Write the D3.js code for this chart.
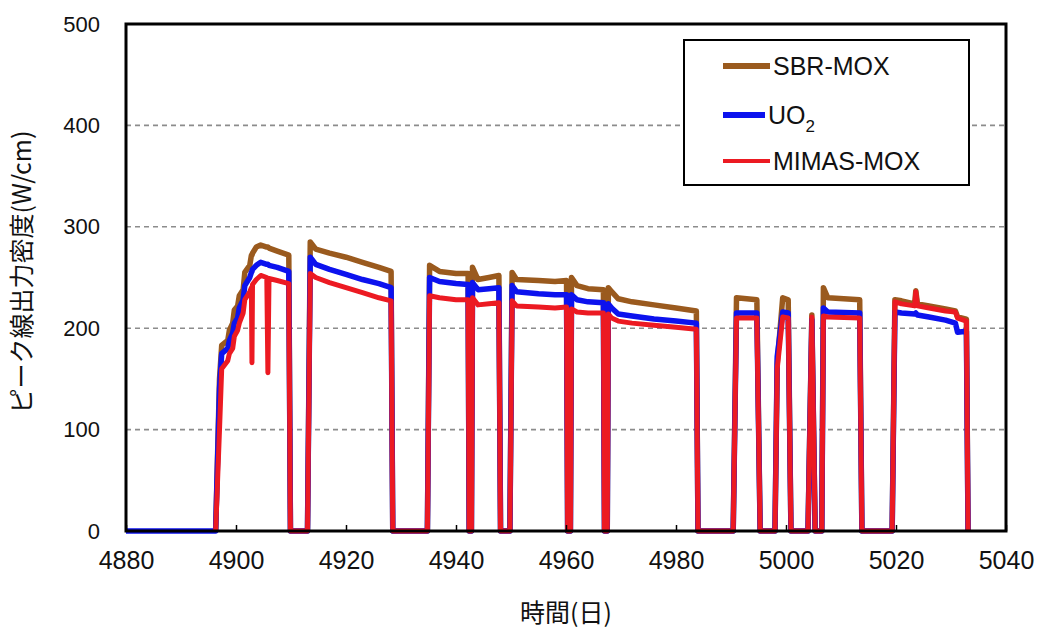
<!DOCTYPE html>
<html>
<head>
<meta charset="utf-8">
<script src="https://cdn.jsdelivr.net/npm/d3@7"></script>
<style>
  html, body { margin: 0; padding: 0; background: #fff; }
  svg { display: block; }
  text { font-family: "Liberation Sans", Arial, sans-serif; fill: #111; }
</style>
</head>
<body>
<svg id="chart" width="1044" height="632"></svg>
<script>
// ---- data ----
const seriesNames = ["SBR-MOX", "UO2", "MIMAS-MOX"];
const xTicks = [4880, 4900, 4920, 4940, 4960, 4980, 5000, 5020, 5040];
const yTicks = [0, 100, 200, 300, 400, 500];

const days = [
  4880, 4896.3,
  4897.0, 4897.4, 4898.5, 4898.8, 4899.4, 4899.7, 4900.3, 4900.6, 4901.3, 4901.6, 4902.5, 4902.8,
  4902.9, 4903.0, 4903.7, 4904.5, 4905.6, 4905.8, 4906.0, 4907.5, 4909.6, 4909.9,
  4913.0, 4913.5, 4914.5, 4917, 4920, 4923, 4926, 4928.2, 4928.5,
  4934.8, 4935.2, 4937, 4940, 4942.2, 4942.4, 4942.8, 4943.0, 4944, 4946, 4947.8, 4948.1,
  4949.8, 4950.2, 4951, 4955, 4958, 4960.1, 4960.3, 4960.8, 4961.0, 4962, 4964, 4966.8, 4967.0, 4967.5, 4967.7, 4968.3, 4969.5, 4972, 4976, 4980, 4983.7, 4984.0,
  4990.4, 4991.0, 4994.7, 4995.3, 4998.0, 4998.4, 4999.4, 5000.4, 5000.9,
  5004.0, 5004.7, 5005.3, 5006.5, 5006.8, 5007.6, 5013.4, 5013.8,
  5019.3, 5019.8, 5021, 5023.4, 5023.6, 5023.9, 5026, 5029, 5030.8, 5031.2, 5032.8, 5033.1
];

const sbrMox = [
  null, 0,
  150, 183, 188, 198, 205, 218, 222, 232, 238, 255, 262, 272,
  272, 274, 280, 282, 280, 280, 279, 276, 272, 0,
  0, 285, 278, 274, 270, 265, 260, 256, 0,
  0, 262, 256, 254, 254, 0, 0, 260, 248, 250, 252, 0,
  0, 255, 248, 247, 246, 247, 0, 0, 250, 242, 239, 238, 0, 0, 240, 236, 229, 226, 223, 220, 217, 0,
  0, 230, 228, 0, 0, 165, 230, 228, 0,
  0, 213, 0, 0, 240, 230, 228, 0,
  0, 228, 227, 224, 237, 224, 222, 219, 217, 211, 209, 0
];

const uo2 = [
  0, 0,
  140, 175, 180, 188, 195, 205, 210, 220, 228, 242, 250, 255,
  256, 258, 262, 265, 263, 263, 262, 260, 256, 0,
  0, 270, 263, 258, 253, 248, 244, 240, 0,
  0, 250, 246, 244, 243, 0, 0, 245, 238, 239, 240, 0,
  0, 242, 236, 234, 233, 233, 0, 0, 233, 228, 226, 225, 0, 0, 224, 220, 214, 212, 209, 207, 205, 0,
  0, 215, 215, 0, 0, 172, 216, 215, 0,
  0, 208, 0, 0, 220, 216, 215, 0,
  0, 216, 215, 214, 215, 213, 211, 208, 205, 196, 197, 0
];

const mimasMox = [
  null, 0,
  100, 160, 168, 175, 180, 192, 198, 205, 215, 228, 236, 240,
  166, 243, 248, 252, 250, 156, 249, 247, 244, 0,
  0, 254, 250, 245, 240, 235, 230, 227, 0,
  0, 232, 230, 228, 228, 0, 0, 230, 223, 224, 225, 0,
  0, 227, 222, 221, 220, 221, 0, 0, 219, 216, 215, 215, 0, 0, 214, 210, 207, 205, 203, 201, 199, 0,
  0, 210, 210, 0, 0, 160, 211, 210, 0,
  0, 211, 0, 0, 212, 211, 210, 0,
  0, 226, 224, 222, 236, 222, 220, 217, 216, 210, 207, 0
];

const seriesColors = ["#9a5a1e", "#0c12ee", "#ec1a22"];

// ---- drawing ----
const svg = d3.select("#chart");
const plotLeft = 126, plotRight = 1006, plotTop = 24, plotBottom = 531;

const x = d3.scaleLinear().domain([4880, 5040]).range([plotLeft, plotRight]);
const y = d3.scaleLinear().domain([0, 500]).range([plotBottom, plotTop]);

// grid lines
svg.append("g")
  .selectAll("line")
  .data(yTicks.filter(v => v > 0 && v < 500))
  .join("line")
  .attr("x1", plotLeft).attr("x2", plotRight)
  .attr("y1", d => y(d)).attr("y2", d => y(d))
  .attr("stroke", "#8c8c8c")
  .attr("stroke-width", 1.6)
  .attr("stroke-dasharray", "5,4");

// series
const valueArrays = [sbrMox, uo2, mimasMox];
const widths = [5.5, 5.5, 5];
const line = d3.line()
  .defined(d => d.v !== null)
  .x(d => x(d.t))
  .y(d => y(d.v));

valueArrays.forEach((arr, i) => {
  const pts = days.map((t, k) => ({ t: t, v: arr[k] }));
  svg.append("path")
    .datum(pts)
    .attr("d", line)
    .attr("fill", "none")
    .attr("stroke", seriesColors[i])
    .attr("stroke-width", widths[i])
    .attr("stroke-linejoin", "round");
});

// frame
svg.append("rect")
  .attr("x", plotLeft).attr("y", plotTop)
  .attr("width", plotRight - plotLeft).attr("height", plotBottom - plotTop)
  .attr("fill", "none")
  .attr("stroke", "#000")
  .attr("stroke-width", 3);

// x axis
const xAxis = svg.append("g")
  .attr("transform", `translate(0,${plotBottom})`)
  .call(d3.axisBottom(x).tickValues(xTicks).tickFormat(d3.format("d")).tickSize(-6).tickPadding(20));
xAxis.select(".domain").remove();
xAxis.selectAll(".tick line").attr("stroke", "#000").attr("stroke-width", 1.5);
xAxis.selectAll(".tick text")
  .style("font-family", "'Liberation Sans', Arial, sans-serif")
  .style("font-size", "25px")
  .attr("fill", "#111")
  .attr("dy", "0.71em");

// y axis
const yAxis = svg.append("g")
  .attr("transform", `translate(${plotLeft},0)`)
  .call(d3.axisLeft(y).tickValues(yTicks).tickFormat(d3.format("d")).tickSize(0).tickPadding(26));
yAxis.select(".domain").remove();
yAxis.selectAll(".tick text")
  .style("font-family", "'Liberation Sans', Arial, sans-serif")
  .style("font-size", "22px")
  .attr("fill", "#111");

// axis titles
svg.append("text")
  .attr("x", 566).attr("y", 622)
  .attr("text-anchor", "middle")
  .style("font-family", "'Noto Sans CJK JP', sans-serif")
  .style("font-size", "25px")
  .text("時間(日)");

svg.append("text")
  .attr("transform", "translate(31,272) rotate(-90)")
  .attr("text-anchor", "middle")
  .style("font-family", "'Noto Sans CJK JP', sans-serif")
  .style("font-size", "25px")
  .text("ピーク線出力密度(W/cm)");

// legend
const lg = svg.append("g");
lg.append("rect")
  .attr("x", 684).attr("y", 40).attr("width", 285).attr("height", 145)
  .attr("fill", "#fff").attr("stroke", "#000").attr("stroke-width", 2);
const legendY = [66, 115, 161];
const legendLineEnd = [770, 765, 770];
const legendW = [6, 6, 4];
seriesNames.forEach((name, i) => {
  lg.append("line")
    .attr("x1", 723).attr("x2", legendLineEnd[i])
    .attr("y1", legendY[i]).attr("y2", legendY[i])
    .attr("stroke", seriesColors[i]).attr("stroke-width", legendW[i]);
  const t = lg.append("text")
    .attr("x", legendLineEnd[i] + 3).attr("y", legendY[i] + 9)
    .style("font-size", "25px");
  if (name === "UO2") {
    t.append("tspan").text("UO");
    t.append("tspan").attr("dy", 8).style("font-size", "17px").text("2");
  } else {
    t.text(name);
  }
});
</script>
</body>
</html>
